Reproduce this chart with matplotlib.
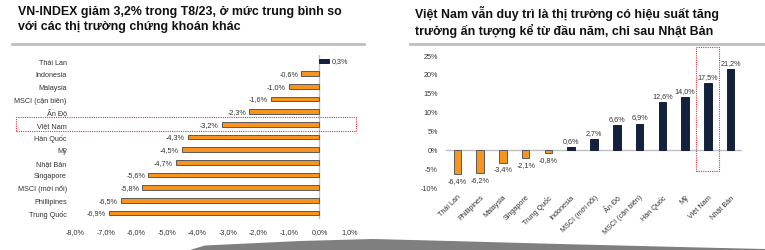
import matplotlib
matplotlib.use("Agg")
import matplotlib.pyplot as plt
from matplotlib.patches import Rectangle, Polygon

plt.rcParams['font.family'] = ['Liberation Sans', 'DejaVu Sans']

# ---------------- data ----------------
left_cats = ["Thái Lan", "Indonesia", "Malaysia", "MSCI (cận biên)", "Ấn Độ", "Việt Nam",
             "Hàn Quốc", "Mỹ", "Nhật Bản", "Singapore", "MSCI (mới nổi)", "Phillipines", "Trung Quốc"]
left_vals = [0.3, -0.6, -1.0, -1.6, -2.3, -3.2, -4.3, -4.5, -4.7, -5.6, -5.8, -6.5, -6.9]
left_xticks = [-8, -7, -6, -5, -4, -3, -2, -1, 0, 1]

right_cats = ["Thái Lan", "Phillipines", "Malaysia", "Singapore", "Trung Quốc", "Indonesia",
              "MSCI (mới nổi)", "Ấn Độ", "MSCI (cận biên)", "Hàn Quốc", "Mỹ", "Việt Nam", "Nhật Bản"]
right_vals = [-6.4, -6.2, -3.4, -2.1, -0.8, 0.6, 2.7, 6.6, 6.9, 12.6, 14.0, 17.5, 21.2]
right_yticks = [-10, -5, 0, 5, 10, 15, 20, 25]

title_left = "VN-INDEX giảm 3,2% trong T8/23, ở mức trung bình so\nvới các thị trường chứng khoán khác"
title_right = "Việt Nam vẫn duy trì là thị trường có hiệu suất tăng\ntrưởng ấn tượng kể từ đầu năm, chỉ sau Nhật Bản"

ORANGE = "#F7941D"
NAVY = "#14213D"
EDGE = "#5A5A5A"
RED = "#E8303A"
W, H = 765, 251

def fmt(v, dec=1):
    return (f"{v:.{dec}f}").replace(".", ",") + "%"

fig = plt.figure(figsize=(W / 100, H / 100), dpi=100)

def fx(px):
    return px / W

def fy(py):
    return 1 - py / H

# titles
fig.text(fx(18), fy(6), title_left, ha="left", va="top", fontsize=8.9, fontweight="bold",
         color="#111111", linespacing=1.3)
fig.text(fx(415), fy(6), title_right, ha="left", va="top", fontsize=8.9, fontweight="bold",
         color="#111111", linespacing=1.3)
# separators
fig.add_artist(plt.Line2D([fx(12), fx(364)], [fy(45), fy(45)], color="#BFBFBF", lw=2,
                          transform=fig.transFigure))
fig.add_artist(plt.Line2D([fx(410), fx(765)], [fy(45), fy(45)], color="#BFBFBF", lw=2,
                          transform=fig.transFigure))

# ---------------- left chart ----------------
axL = fig.add_axes([fx(75), fy(220.3), fx(350) - fx(75), fy(55.7) - fy(220.3)])
ypos = list(range(len(left_cats)))
colsL = [NAVY if v > 0 else ORANGE for v in left_vals]
edL = [NAVY if v > 0 else EDGE for v in left_vals]
axL.barh(ypos, left_vals, height=0.38, color=colsL, edgecolor=edL, linewidth=0.7, zorder=3)
axL.set_ylim(len(left_cats) - 0.5, -0.5)
axL.set_xlim(-8, 1)
axL.set_yticks(ypos)
axL.set_yticklabels(left_cats, fontsize=5.2, color="#333333")
axL.set_xticks(left_xticks)
axL.set_xticklabels([fmt(v) for v in left_xticks], fontsize=5.2, color="#333333")
axL.tick_params(length=0, pad=6)
axL.tick_params(axis="y", pad=6)
for s in axL.spines.values():
    s.set_visible(False)
axL.axvline(0, color="#BFBFBF", lw=1, zorder=2)
for y, v in zip(ypos, left_vals):
    if v < 0:
        axL.text(v - 0.1, y, fmt(v), ha="right", va="center", fontsize=5.2, color="#333333")
    else:
        axL.text(v + 0.1, y, fmt(v), ha="left", va="center", fontsize=5.2, color="#333333")

# ---------------- right chart ----------------
axR = fig.add_axes([fx(446), fy(188.5), fx(742) - fx(446), fy(56) - fy(188.5)])
xpos = list(range(len(right_cats)))
colsR = [NAVY if v > 0 else ORANGE for v in right_vals]
edR = [NAVY if v > 0 else EDGE for v in right_vals]
axR.bar(xpos, right_vals, width=0.33, color=colsR, edgecolor=edR, linewidth=0.7, zorder=3)
axR.set_xlim(-0.5, len(right_cats) - 0.5)
axR.set_ylim(-10, 25)
axR.set_yticks(right_yticks)
axR.set_yticklabels([f"{v}%" for v in right_yticks], fontsize=5.2, color="#333333")
axR.set_xticks(xpos)
axR.set_xticklabels(right_cats, fontsize=5.2, color="#333333", rotation=45,
                    ha="right", rotation_mode="anchor")
axR.tick_params(length=0)
axR.tick_params(axis="y", pad=6)
axR.tick_params(axis="x", pad=4)
for s in axR.spines.values():
    s.set_visible(False)
axR.axhline(0, color="#BFBFBF", lw=1, zorder=2)
for x, v in zip(xpos, right_vals):
    if v < 0:
        axR.text(x, v - 0.8, fmt(v), ha="center", va="top", fontsize=5.2, color="#333333")
    else:
        axR.text(x, v + 0.8, fmt(v), ha="center", va="bottom", fontsize=5.2, color="#333333")

# highlight boxes
fig.add_artist(Rectangle((fx(16), fy(132)), fx(356) - fx(16), fy(118) - fy(132),
                         transform=fig.transFigure, fill=False, edgecolor=RED,
                         linestyle=(0, (1, 1)), lw=0.8))
fig.add_artist(Rectangle((fx(696), fy(172)), fx(719) - fx(696), fy(48) - fy(172),
                         transform=fig.transFigure, fill=False, edgecolor=RED,
                         linestyle=(0, (1, 1)), lw=0.8))

# decorative bottom band
pts = [(190, 251), (205, 246.5), (300, 242), (373, 240), (450, 242), (560, 245),
       (700, 248.5), (765, 250), (765, 251)]
fig.add_artist(Polygon([(fx(a), fy(b)) for a, b in pts], closed=True,
                       transform=fig.transFigure, facecolor="#7F7F7F", edgecolor="none"))

fig.savefig("out.png", dpi=100)
